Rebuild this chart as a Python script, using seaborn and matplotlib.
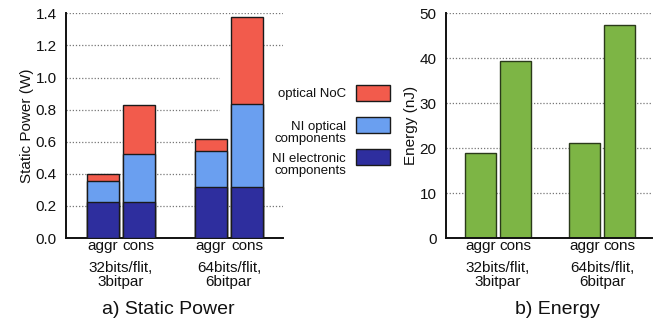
import numpy as np
import pandas as pd
import matplotlib
matplotlib.use("Agg")
import matplotlib.pyplot as plt
from matplotlib.patches import Rectangle
import seaborn as sns

# ---- data ----
configs = ["aggr", "cons", "aggr", "cons"]
groups = ["32bits/flit,\n3bitpar", "64bits/flit,\n6bitpar"]
ni_electronic = [0.226, 0.226, 0.316, 0.316]
ni_optical = [0.129, 0.297, 0.226, 0.519]
optical_noc = [0.045, 0.307, 0.073, 0.542]
energy = [18.85, 39.4, 21.2, 47.4]
series_names = ["optical NoC", "NI optical\ncomponents", "NI electronic\ncomponents"]

sns.set_theme(style="white")
plt.rcParams["font.family"] = ["Liberation Sans", "DejaVu Sans"]

pos = [0, 1, 3, 4]
c_red = "#F25B4C"
c_blue = "#6A9FF0"
c_navy = "#2E2E9E"
c_green = "#7DB545"

fig = plt.figure(figsize=(6.64, 3.21), dpi=100)
W, H = 664, 321


def ax_rect(l, r, t, b):
    return [l / W, 1 - b / H, (r - l) / W, (b - t) / H]


ax1 = fig.add_axes(ax_rect(66, 283, 13.3, 238))
ax2 = fig.add_axes(ax_rect(445.7, 651.7, 13.3, 238))

el = np.array(ni_electronic)
op = el + np.array(ni_optical)
tot = op + np.array(optical_noc)

df = pd.DataFrame({"pos": pos, "el": el, "op": op, "tot": tot, "energy": energy})

edge_kw = dict(edgecolor="#1a1a1a", linewidth=1.0, saturation=1, width=0.9,
               native_scale=True, errorbar=None)
sns.barplot(data=df, x="pos", y="tot", color=c_red, ax=ax1, zorder=2, **edge_kw)
sns.barplot(data=df, x="pos", y="op", color=c_blue, ax=ax1, zorder=3, **edge_kw)
sns.barplot(data=df, x="pos", y="el", color=c_navy, ax=ax1, zorder=4, **edge_kw)

sns.barplot(data=df, x="pos", y="energy", color=c_green, ax=ax2, zorder=2,
            edgecolor="#2a3a1a", linewidth=1.0, saturation=1, width=0.9,
            native_scale=True, errorbar=None)

for ax, ylim, yt, xl, ylab, title in [
    (ax1, (0, 1.4), np.arange(0, 1.41, 0.2), (-1.02, 5.0), "Static Power (W)", "a) Static Power"),
    (ax2, (0, 50), np.arange(0, 51, 10), (-1.007, 4.93), "Energy (nJ)", "b) Energy"),
]:
    ax.set_ylim(*ylim)
    ax.set_xlim(*xl)
    ax.set_yticks(yt)
    if ax is ax1:
        ax.set_yticklabels([f"{v:.1f}" for v in yt])
    else:
        ax.set_yticklabels([f"{v:.0f}" for v in yt])
    ax.set_xticks(pos)
    ax.set_xticklabels(configs)
    ax.tick_params(axis="y", length=0, pad=6.5, labelsize=11, labelcolor="#111111")
    ax.tick_params(axis="x", length=0, pad=1.0, labelsize=11, labelcolor="#111111")
    ax.set_xlabel("")
    ax.set_ylabel(ylab, fontsize=11, color="#111111", labelpad=1.5)
    for s in ["top", "right"]:
        ax.spines[s].set_visible(False)
    for s in ["left", "bottom"]:
        ax.spines[s].set_color("#111111")
        ax.spines[s].set_linewidth(1.4)
    ax.set_axisbelow(True)
    ax.yaxis.grid(True, linestyle=(0, (1, 1.5)), color="#777777", linewidth=0.9, zorder=0.5)
    ax.xaxis.grid(False)
    ax.set_facecolor("white")
    for gi, g in enumerate(groups):
        cx = (pos[2 * gi] + pos[2 * gi + 1]) / 2
        ax.text(cx, -0.165, g, transform=ax.get_xaxis_transform(), ha="center", va="center",
                fontsize=11, linespacing=1.05, color="#111111")
    ax.text(0.47 if ax is ax1 else 0.54, -0.316, title, transform=ax.transAxes,
            ha="center", va="center", fontsize=14, color="#111111")

# opaque key box hiding grid lines (as in the reference)
ax1.add_patch(Rectangle((0.71, 0.236), 0.4, 0.512, transform=ax1.transAxes,
                        facecolor="white", edgecolor="none", zorder=1, clip_on=True))

# manual key
legend_colors = [c_red, c_blue, c_navy]
patch_y = [85, 117, 149]
text_y = [94, 133, 165]
for name, col, py, ty in zip(series_names, legend_colors, patch_y, text_y):
    fig.patches.append(Rectangle((355.7 / W, 1 - (py + 16) / H), 34.3 / W, 16 / H,
                                 transform=fig.transFigure, facecolor=col,
                                 edgecolor="#1a1a1a", linewidth=1.0))
    fig.text(346 / W, 1 - ty / H, name, ha="right", va="center", fontsize=9.5,
             multialignment="right", linespacing=1.0, color="#111111")

fig.savefig("out.png", dpi=100)
